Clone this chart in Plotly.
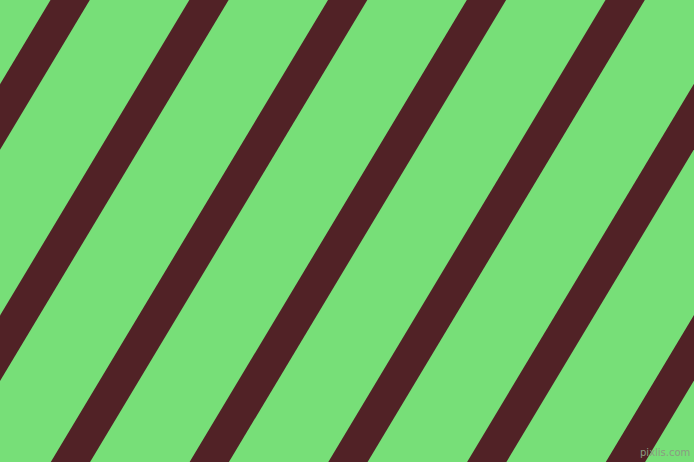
import plotly.graph_objects as go

# stripe left edges where they meet the top border (px)
stripe_top_x = [-88.5, 50.5, 189.3, 328.0, 466.8, 605.5, 744.3, 883.0]
stripe_width = 39.3     # horizontal width of each stripe (px)
stripe_slope = 0.6      # horizontal shift per px going down

W, H = 694, 462
bg_color = '#77DF78'
stripe_color = '#512226'

fig = go.Figure()

y0, y1 = -20, H + 20
for t in stripe_top_x:
    xs = [t - stripe_slope * y0, t + stripe_width - stripe_slope * y0,
          t + stripe_width - stripe_slope * y1, t - stripe_slope * y1]
    ys = [y0, y0, y1, y1]
    fig.add_trace(go.Scatter(
        x=xs + [xs[0]], y=ys + [ys[0]],
        mode='lines', fill='toself',
        fillcolor=stripe_color, line=dict(width=0, color=stripe_color),
        hoverinfo='skip', showlegend=False
    ))

# faint watermark bottom right
fig.add_annotation(
    x=692, y=452, xref='x', yref='y', xanchor='right', yanchor='middle',
    text='pixlis.com', showarrow=False,
    font=dict(family='DejaVu Sans', size=10, color='#8a9c80')
)

fig.update_layout(
    width=W, height=H,
    margin=dict(l=0, r=0, t=0, b=0),
    plot_bgcolor=bg_color,
    paper_bgcolor=bg_color,
    xaxis=dict(range=[0, W], visible=False, fixedrange=True),
    yaxis=dict(range=[H, 0], visible=False, fixedrange=True),
)

# drop the default page margin so the figure sits at the window corner
fig.write_html("out.html", config={'displayModeBar': False},
               post_script="document.body.style.margin='0';")
